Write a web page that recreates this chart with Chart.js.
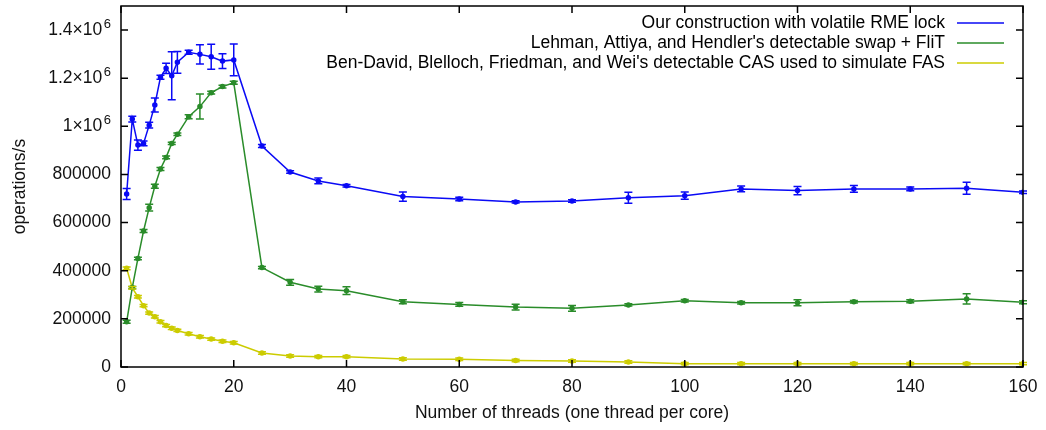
<!DOCTYPE html>
<html>
<head>
<meta charset="utf-8">
<script src="https://cdn.jsdelivr.net/npm/chart.js@4.4.1/dist/chart.umd.min.js"></script>
<style>
  html, body { margin: 0; padding: 0; background: #fff; }
  #wrap { width: 1046px; height: 430px; }
</style>
</head>
<body>
<div id="wrap"><canvas id="chart" width="1046" height="430"></canvas></div>
<script>
var threads = [1,2,3,4,5,6,7,8,9,10,12,14,16,18,20,25,30,35,40,50,60,70,80,90,100,110,120,130,140,150,160];

var oursOps = [719000,1030000,922000,929000,1005000,1089000,1204000,1241000,1210000,1266000,1308000,1299000,1289000,1271000,1276000,918000,810000,773000,753000,708000,698000,686000,690000,703000,712000,740000,733000,740000,740000,743000,726000];
var oursErr = [23000,12000,21000,10000,12000,29000,8000,21000,100000,45000,8000,40000,52000,31000,66000,6000,5000,12000,5000,19000,7000,5000,5000,23000,15000,12000,17000,14000,8000,25000,5000];

var lehmanOps = [188000,330000,451000,565000,662000,751000,823000,871000,929000,967000,1040000,1082000,1140000,1165000,1181000,413000,352000,324000,317000,271000,260000,249000,244000,258000,275000,267000,267000,271000,273000,283000,269000];
var lehmanErr = [6000,5000,5000,6000,14000,8000,6000,6000,5000,5000,8000,52000,6000,6000,6000,5000,12000,12000,16000,8000,8000,12000,12000,5000,5000,5000,12000,5000,6000,21000,6000];

var benDavidOps = [410000,329000,292000,255000,224000,209000,188000,172000,161000,152000,138000,126000,116000,107000,101000,58000,46000,43000,43000,33000,32000,27000,25000,21000,14000,14000,14000,14000,14000,14000,14000];
var benDavidErr = [6000,5000,5000,5000,5000,5000,5000,5000,5000,5000,5000,5000,5000,5000,5000,5000,5000,5000,5000,5000,5000,5000,5000,5000,5000,5000,5000,5000,5000,5000,5000];

var labels = [
  "Our construction with volatile RME lock",
  "Lehman, Attiya, and Hendler's detectable swap + FliT",
  "Ben-David, Blelloch, Friedman, and Wei's detectable CAS used to simulate FAS"
];
var colors = ["#0a0af5", "#2a8c2a", "#cccc00"];

var xTicks = [0,20,40,60,80,100,120,140,160];
var yTicks = [0,200000,400000,600000,800000,1000000,1200000,1400000];

var FONT = "'Liberation Sans', Arial, sans-serif";
var FSIZE = 17.5;

function pts(vals) {
  return threads.map(function(t, i) { return { x: t, y: vals[i] }; });
}

function makeSet(i, vals, errs) {
  return {
    label: labels[i],
    data: pts(vals),
    errors: errs,
    borderColor: colors[i],
    backgroundColor: colors[i],
    borderWidth: 1.5,
    pointRadius: 2,
    pointHoverRadius: 2,
    tension: 0
  };
}

// error bars, drawn through the chart's own scales
var errorBars = {
  id: 'errorBars',
  afterDatasetsDraw: function(chart) {
    var ctx = chart.ctx, y = chart.scales.y, x = chart.scales.x;
    chart.data.datasets.forEach(function(ds) {
      ctx.save();
      ctx.strokeStyle = ds.borderColor;
      ctx.lineWidth = 1.5;
      ds.data.forEach(function(p, i) {
        var e = ds.errors[i];
        var px = x.getPixelForValue(p.x);
        var top = y.getPixelForValue(p.y + e), bot = y.getPixelForValue(p.y - e);
        ctx.beginPath();
        ctx.moveTo(px, top); ctx.lineTo(px, bot);
        ctx.moveTo(px - 4, top); ctx.lineTo(px + 4, top);
        ctx.moveTo(px - 4, bot); ctx.lineTo(px + 4, bot);
        ctx.stroke();
      });
      ctx.restore();
    });
  }
};

// gnuplot style frame with inward ticks, exponent superscripts and a right aligned key
var frame = {
  id: 'frame',
  afterDraw: function(chart) {
    var ctx = chart.ctx, a = chart.chartArea, x = chart.scales.x, y = chart.scales.y;
    ctx.save();
    ctx.strokeStyle = '#000';
    ctx.lineWidth = 1.5;
    ctx.strokeRect(a.left, a.top, a.right - a.left, a.bottom - a.top);
    ctx.beginPath();
    xTicks.forEach(function(v) {
      var px = x.getPixelForValue(v);
      ctx.moveTo(px, a.bottom); ctx.lineTo(px, a.bottom - 7);
      ctx.moveTo(px, a.top); ctx.lineTo(px, a.top + 7);
    });
    yTicks.forEach(function(v) {
      var py = y.getPixelForValue(v);
      ctx.moveTo(a.left, py); ctx.lineTo(a.left + 7, py);
      ctx.moveTo(a.right, py); ctx.lineTo(a.right - 7, py);
    });
    ctx.stroke();

    // superscript 6 on the 10^6 labels
    ctx.fillStyle = '#111';
    ctx.font = '13px ' + FONT;
    ctx.textAlign = 'right';
    ctx.textBaseline = 'middle';
    yTicks.forEach(function(v) {
      if (v >= 1000000) ctx.fillText('6', a.left - 10, y.getPixelForValue(v) - 6);
    });

    // key
    ctx.font = FSIZE + 'px ' + FONT;
    chart.data.datasets.forEach(function(ds, i) {
      var ry = 23 + i * 20;
      ctx.fillStyle = '#000';
      ctx.fillText(ds.label, 945, ry);
      ctx.strokeStyle = ds.borderColor;
      ctx.lineWidth = 1.5;
      ctx.beginPath();
      ctx.moveTo(957, ry); ctx.lineTo(1004, ry);
      ctx.stroke();
    });
    ctx.restore();
  }
};

new Chart(document.getElementById('chart'), {
  type: 'line',
  data: {
    datasets: [
      makeSet(0, oursOps, oursErr),
      makeSet(1, lehmanOps, lehmanErr),
      makeSet(2, benDavidOps, benDavidErr)
    ]
  },
  options: {
    responsive: false,
    animation: false,
    layout: { padding: { left: 0, right: 23, top: 6, bottom: 0 } },
    plugins: { legend: { display: false }, tooltip: { enabled: false } },
    scales: {
      x: {
        type: 'linear', min: 0, max: 160,
        afterFit: function(s) { s.height = 63; s.paddingLeft = 0; s.paddingRight = 0; },
        afterBuildTicks: function(s) { s.ticks = xTicks.map(function(v) { return { value: v }; }); },
        grid: { display: false, drawTicks: false },
        border: { display: false },
        ticks: { color: '#111', padding: 10, font: { family: FONT, size: FSIZE } },
        title: { display: true, text: 'Number of threads (one thread per core)', color: '#111',
                 font: { family: FONT, size: FSIZE }, padding: { top: 3, bottom: 6 } }
      },
      y: {
        type: 'linear', min: 0, max: 1500000,
        afterFit: function(s) { s.width = 121; s.paddingTop = 0; s.paddingBottom = 0; },
        afterBuildTicks: function(s) { s.ticks = yTicks.map(function(v) { return { value: v }; }); },
        grid: { display: false, drawTicks: false },
        border: { display: false },
        ticks: {
          color: '#111', padding: 10, font: { family: FONT, size: FSIZE },
          callback: function(v) {
            if (v >= 1000000) return (v / 1000000) + '\u00d710\u2002';
            return String(v);
          }
        },
        title: { display: true, text: 'operations/s', color: '#111',
                 font: { family: FONT, size: FSIZE }, padding: { top: 10, bottom: 0 } }
      }
    }
  },
  plugins: [errorBars, frame]
});
</script>
</body>
</html>
